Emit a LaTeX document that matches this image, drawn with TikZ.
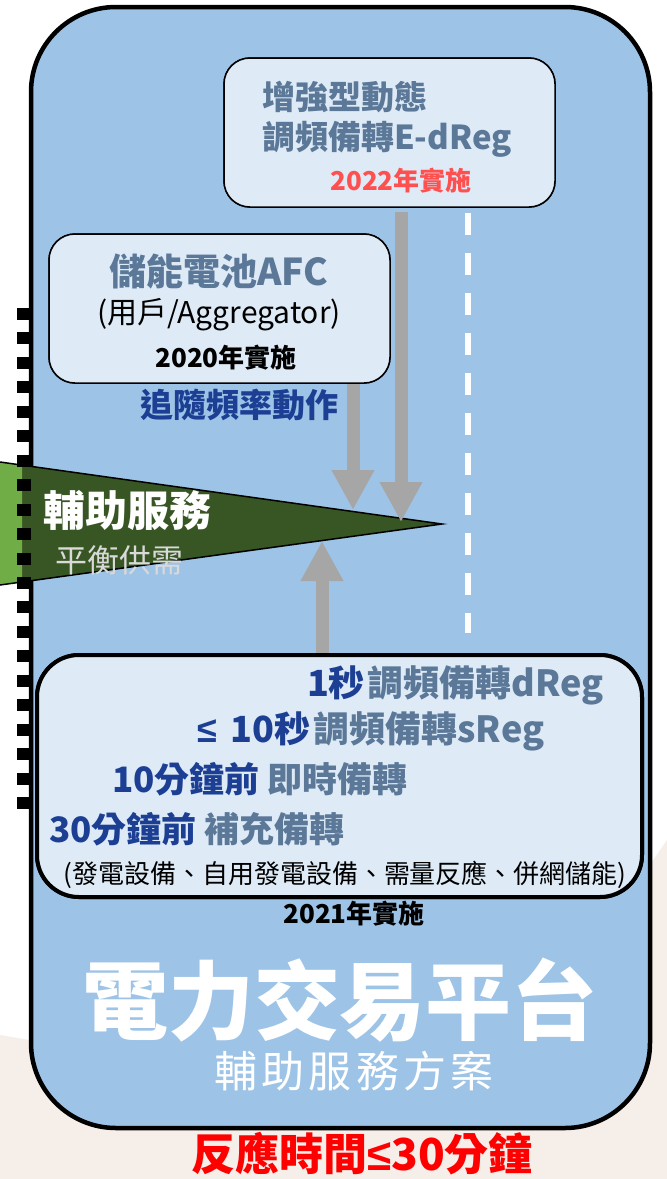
\documentclass[tikz,border=0pt]{standalone}
\usepackage{fontspec}
\setmainfont{Noto Sans CJK TC}
\newfontfamily\symfont{Liberation Sans}
\usetikzlibrary{arrows.meta}
\definecolor{bigblue}{HTML}{9DC3E6}
\definecolor{paleblue}{HTML}{DEEBF7}
\definecolor{slate}{HTML}{5B7898}
\definecolor{navy}{HTML}{1C3F94}
\definecolor{arrowgray}{HTML}{A6A6A6}
\definecolor{lgreen}{HTML}{70AD47}
\definecolor{dgreen}{HTML}{375623}
\definecolor{beige}{HTML}{F6EEE9}
\definecolor{softred}{HTML}{FF5050}
\definecolor{hardred}{HTML}{FF0000}
\definecolor{palegray}{HTML}{D9D9D9}
\newcommand{\fsz}[1]{\fontsize{#1}{#1}\selectfont}
\newcommand{\leqsym}{{\symfont\bfseries ≤}}
\begin{document}
\begin{tikzpicture}[x=1pt,y=-1pt,
  txt/.style={inner sep=0pt, outer sep=0pt},
  panel/.style={draw=black, fill=paleblue, rounded corners=26pt, line width=1.5pt, inner sep=0pt, outer sep=0pt},
  bigpanel/.style={draw=black, fill=paleblue, rounded corners=42pt, line width=4pt, inner sep=0pt, outer sep=0pt},
  garrow/.style={draw=arrowgray, line width=13pt, -{Triangle[width=40pt,length=40pt]}},
  tick/.style={fill=black},
]
\useasboundingbox (0,0) rectangle (667,1179);
% background
\fill[white] (0,0) rectangle (667,1179);
\fill[beige] (0,1035) -- (35,1041) -- (645,872) -- (667,840) -- (667,1179) -- (0,1179) -- cycle;
% main box
\node[draw=black, fill=bigblue, line width=4.5pt, rounded corners=85pt,
      minimum width=619pt, minimum height=1121pt, inner sep=0pt] (main) at (340.5,567.5) {};
% triangle
\coordinate (apex) at (442,524);
\fill[dgreen] (0,462) -- (apex) -- (0,585) -- cycle;
\fill[lgreen] (0,462) -- (22,465.1) -- (22,581.9) -- (0,585) -- cycle;
\draw[black, line width=1.5pt] (0,462) -- (apex) -- (0,585);
% arrow tips
\coordinate (tipA) at (353,510);
\coordinate (tipB) at (401,522);
\coordinate (tipC) at (322,541);
% boxes (positions)
\path (389.5,132.5) node[panel, minimum width=331pt, minimum height=149pt] (b1) {};
\path (219.5,308.5) node[panel, minimum width=341pt, minimum height=149pt] (b2) {};
\path (339.5,776) node[bigpanel, minimum width=605pt, minimum height=242pt] (b3) {};
% arrows drawn over the triangle
\draw[garrow] ([yshift=-1pt]b2.south -| tipA) -- (tipA);
\draw[garrow] ([yshift=-5pt]b1.south -| tipB) -- (tipB);
\draw[garrow] ([yshift=2pt]b3.north -| tipC) -- (tipC);
% redraw boxes on top of arrow ends
\path (389.5,132.5) node[panel, minimum width=331pt, minimum height=149pt] {};
\path (219.5,308.5) node[panel, minimum width=341pt, minimum height=149pt] {};
\path (339.5,776) node[bigpanel, minimum width=605pt, minimum height=242pt] {};
% dashed white line
\coordinate (dtop) at (468,213);
\coordinate (dbot) at (468,633);
\draw[white, line width=6pt, dash pattern=on 22pt off 18pt] (dtop) -- (dbot);
% film strip ticks
\foreach \k in {0,...,20} {
  \fill[tick] (17,{308+24.45*\k}) rectangle (31,{320+24.45*\k});
}
% texts box 1
\node[txt, anchor=west, text=slate, font=\bfseries\fsz{33}] (t1a) at (262,97) {增強型動態};
\node[txt, anchor=west, text=slate, font=\bfseries\fsz{33}] (t1b) at (262,139) {調頻備轉E-dReg};
\node[txt, text=softred, font=\bfseries\fsz{26}] (t1c) at (401,181) {2022年實施};
% texts box 2
\node[txt, text=slate, font=\bfseries\fsz{37}] (t2a) at (219,272) {儲能電池AFC};
\node[txt, text=black, font=\fsz{30}] (t2b) at (219,315) {(用戶/Aggregator)};
\node[txt, text=black, font=\bfseries\fsz{26}] (t2c) at (226,358) {2020年實施};
\node[txt, text=navy, font=\bfseries\fsz{33}] (t2d) at (239,405) {追隨頻率動作};
% triangle texts
\node[txt, anchor=west, text=white, font=\bfseries\fsz{42}] (tr1) at (43,510) {輔助服務};
\node[txt, anchor=west, text=palegray, font=\fsz{32}] (tr2) at (56,560) {平衡供需};
% box 3 texts
\node[txt, anchor=west, text=slate, font=\bfseries\fsz{36}] (l1) at (307,685) {\textcolor{navy}{1秒}\hspace{3pt}調頻備轉dReg};
\node[txt, anchor=west, text=slate, font=\bfseries\fsz{36}] (l2) at (197,731) {\textcolor{navy}{\leqsym\hspace{14pt}10秒}\hspace{3pt}調頻備轉sReg};
\node[txt, anchor=west, text=slate, font=\bfseries\fsz{35}] (l3) at (112,779) {\textcolor{navy}{10分鐘前} 即時備轉};
\node[txt, anchor=west, text=slate, font=\bfseries\fsz{35}] (l4) at (49,829) {\textcolor{navy}{30分鐘前} 補充備轉};
\node[txt, text=black, font=\fsz{26}] (l5) at (345,875) {(發電設備、自用發電設備、需量反應、併網儲能)};
\node[txt, text=black, font=\bfseries\fsz{26}] (l6) at (354,914) {2021年實施};
% titles
\node[txt, text=white, font=\bfseries\fsz{86}] (title) at (340,1000) {電力交易平台};
\node[txt, text=white, font=\fsz{43}\addfontfeature{LetterSpace=10}] (sub) at (354,1071) {輔助服務方案};
\node[txt, text=hardred, font=\bfseries\fsz{44}] (resp) at (362,1154) {反應時間\leqsym 30分鐘};
\end{tikzpicture}
\end{document}
